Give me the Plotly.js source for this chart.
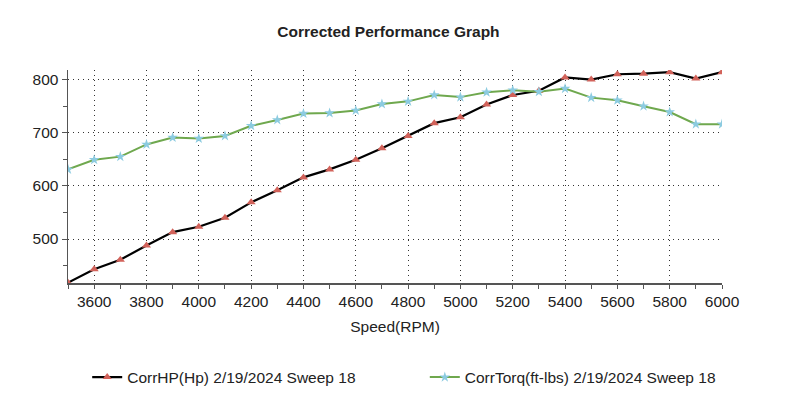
<!DOCTYPE html>
<html>
<head>
<meta charset="utf-8">
<script src="https://cdn.plot.ly/plotly-3.0.1.min.js"></script>
<style>html,body{margin:0;padding:0;background:#fff;}#chart{width:800px;height:397px;}</style>
</head>
<body>
<div id="chart"></div>
<script>
const rpm = [3500,3600,3700,3800,3900,4000,4100,4200,4300,4400,4500,4600,4700,4800,4900,5000,5100,5200,5300,5400,5500,5600,5700,5800,5900,6000];
const corrHP = [418,443,461,488,513,523,540,569,592,616,631,649,671,694,718,729,753,771,779,804,800,810,811,814,802,814];
const corrTorq = [631,649,655,678,691,689,694,713,724,736,737,742,754,759,771,767,776,780,777,783,766,761,750,739,716,716];
const hpName = 'CorrHP(Hp) 2/19/2024 Sweep 18';
const torqName = 'CorrTorq(ft-lbs) 2/19/2024 Sweep 18';
const xTickVals = [3600,3800,4000,4200,4400,4600,4800,5000,5200,5400,5600,5800,6000];
const yTickVals = [500,600,700,800];

const font = 'Liberation Sans, Arial, sans-serif';
const fs = 15.5;

const traces = [
  {x: rpm, y: corrHP, name: hpName, type: 'scatter', mode: 'lines+markers', legend: 'legend',
   line: {color: '#000000', width: 2.2},
   marker: {symbol: 'triangle-up', size: 8, color: '#d2625a', line: {width: 0}}},
  {x: rpm, y: corrTorq, name: torqName, type: 'scatter', mode: 'lines+markers', legend: 'legend2',
   line: {color: '#6fa84e', width: 2},
   marker: {symbol: 'star', size: 8, color: '#8ccbe0', line: {width: 0}}}
];

const legendCommon = {orientation: 'h', xanchor: 'left', yref: 'container', y: 0.049, yanchor: 'middle',
  xref: 'container', font: {family: font, size: fs, color: '#222'}, bgcolor: 'rgba(0,0,0,0)'};

const layout = {
  width: 800, height: 397,
  paper_bgcolor: '#ffffff', plot_bgcolor: '#ffffff',
  margin: {l: 68, r: 78, t: 70, b: 114},
  font: {family: font, size: fs, color: '#222'},
  title: {text: 'Corrected Performance Graph', font: {family: font, size: 15.5, color: '#222', weight: 'bold'},
          x: 0.49, xanchor: 'center', xref: 'paper', y: 0.92, yanchor: 'middle', yref: 'container'},
  xaxis: {
    range: [3500, 6000], tickmode: 'array', tickvals: xTickVals,
    showgrid: true, gridcolor: '#333', griddash: '1px,4px', gridwidth: 1,
    showline: true, linecolor: '#555', linewidth: 1.5, zeroline: false,
    ticks: 'outside', ticklen: 4, tickcolor: '#555', tickwidth: 1,
    minor: {dtick: 100, tick0: 3500, ticks: 'outside', ticklen: 4, tickcolor: '#555', showgrid: false},
    tickfont: {family: font, size: fs, color: '#222'},
    automargin: false,
    title: {text: 'Speed(RPM)', font: {family: font, size: fs, color: '#222'}, standoff: 12}
  },
  yaxis: {
    range: [417.3, 818], tickmode: 'array', tickvals: yTickVals,
    showgrid: true, gridcolor: '#333', griddash: '1px,4px', gridwidth: 1,
    showline: true, linecolor: '#555', linewidth: 1.5, zeroline: false,
    ticks: 'outside', ticklen: 5, tickcolor: '#555', tickwidth: 1,
    minor: {dtick: 50, tick0: 0, ticks: 'outside', ticklen: 4, tickcolor: '#555', showgrid: false},
    tickfont: {family: font, size: fs, color: '#222'},
    automargin: false
  },
  showlegend: true,
  legend: Object.assign({}, legendCommon, {x: 0.109}),
  legend2: Object.assign({}, legendCommon, {x: 0.531})
};

Plotly.newPlot('chart', traces, layout, {displayModeBar: false, staticPlot: true});
</script>
</body>
</html>
